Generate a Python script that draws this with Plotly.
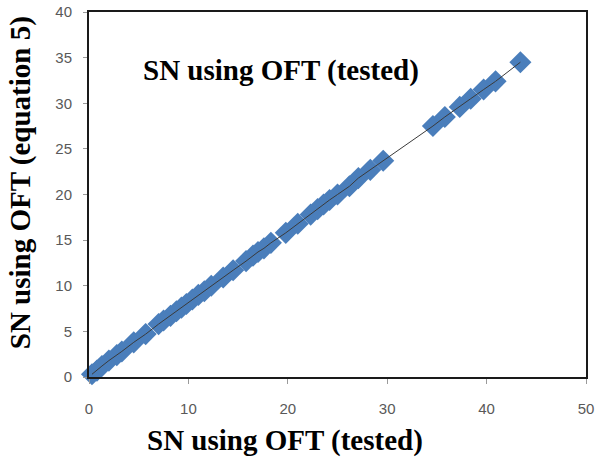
import plotly.graph_objects as go

# SN using OFT (tested) vs SN using OFT (equation 5)
sn_tested = [0.3, 0.8, 1.3, 2.0, 2.8, 3.3, 4.5, 5.7, 7.0, 7.5, 8.2, 8.8, 9.3, 9.8,
             10.4, 11.0, 11.6, 12.3, 13.5, 14.5, 15.8, 16.5, 17.0, 17.6, 18.3,
             19.8, 21.0, 22.3, 23.0, 23.6, 24.2, 25.0, 26.2, 27.1, 28.3, 29.6,
             34.6, 35.8, 37.3, 38.4, 39.7, 40.9, 43.4]
sn_eq5 = [0.3, 0.7, 1.2, 1.8, 2.4, 2.8, 3.8, 4.7, 5.8, 6.2, 6.7, 7.2, 7.6, 8.0,
          8.5, 9.0, 9.4, 10.0, 10.9, 11.7, 12.7, 13.3, 13.7, 14.1, 14.7,
          15.8, 16.8, 17.8, 18.4, 18.9, 19.4, 20.0, 20.9, 21.8, 22.7, 23.7,
          27.5, 28.5, 29.6, 30.5, 31.5, 32.4, 34.5]

x_ticks = [0, 10, 20, 30, 40, 50]
y_ticks = [0, 5, 10, 15, 20, 25, 30, 35, 40]

title_text = "SN using OFT (tested)"
x_title = "SN using OFT (tested)"
y_title = "SN using OFT (equation 5)"

serif = "Liberation Serif, Times New Roman, serif"
tickfont = dict(family="Liberation Sans Narrow, Arial Narrow, Liberation Sans, sans-serif",
                size=15, color="#595959")

fig = go.Figure()
fig.add_trace(go.Scatter(
    x=sn_tested, y=sn_eq5, mode="markers",
    marker=dict(symbol="diamond", size=17, color="#4a7ebb",
                line=dict(width=0)),
    showlegend=False, cliponaxis=False))
fig.add_trace(go.Scatter(
    x=sn_tested, y=sn_eq5, mode="lines",
    line=dict(color="#3a3a3a", width=1),
    showlegend=False))

fig.update_layout(
    width=596, height=464,
    margin=dict(l=89, r=10, t=12, b=87, autoexpand=False),
    paper_bgcolor="white", plot_bgcolor="white",
    xaxis=dict(range=[0, 50], tickvals=x_ticks, showgrid=False, zeroline=False,
               showline=True, mirror=True, linecolor="#1a1a1a", linewidth=2,
               ticks="outside", ticklen=5, tickcolor="#9a9a9a", tickwidth=1,
               tickfont=tickfont, ticklabelstandoff=12, automargin=False,
               ticklabeloverflow="allow"),
    yaxis=dict(range=[0, 40], tickvals=y_ticks, showgrid=False, zeroline=False,
               showline=True, mirror=True, linecolor="#1a1a1a", linewidth=2,
               ticks="outside", ticklen=4, tickcolor="#9a9a9a", tickwidth=1,
               tickfont=tickfont, ticklabelstandoff=8, automargin=False,
               ticklabeloverflow="allow"),
    annotations=[
        dict(text="<b>%s</b>" % title_text, xref="paper", yref="paper",
             x=0.386, y=0.841, xanchor="center", yanchor="middle", showarrow=False,
             font=dict(family=serif, size=29, color="black")),
        dict(text="<b>%s</b>" % x_title, xref="paper", yref="paper",
             x=0.394, y=-0.173, xanchor="center", yanchor="middle", showarrow=False,
             font=dict(family=serif, size=29, color="black")),
        dict(text="<b>%s</b>" % y_title, xref="paper", yref="paper",
             x=-0.138, y=0.532, xanchor="center", yanchor="middle", showarrow=False,
             textangle=-90,
             font=dict(family=serif, size=29, color="black")),
    ],
)

fig.write_html("out.html", config={"displayModeBar": False},
               post_script="document.body.style.margin='0';")
